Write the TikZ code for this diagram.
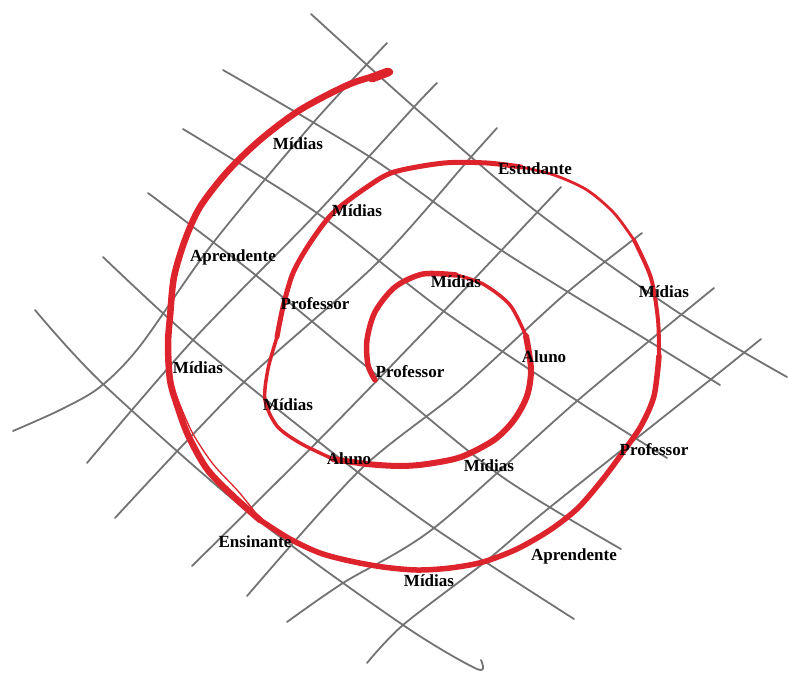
\documentclass[tikz,border=0pt]{standalone}
\usepackage{fontspec}
\setmainfont{Liberation Serif}
\usepackage{xcolor}
\definecolor{spiralred}{RGB}{221,36,45}
\definecolor{gridgrey}{RGB}{115,115,115}

\begin{document}
\begin{tikzpicture}[x=1pt,y=-1pt,
            gridline/.style={draw=gridgrey,line width=1.8pt,line cap=round,line join=round},
            spiral/.style={draw=spiralred,line cap=round,line join=round},
            word/.style={font=\fontsize{17}{19}\selectfont\bfseries,inner sep=0pt,
                         text height=11pt,text depth=3pt}]
        \useasboundingbox (0,0) rectangle (788,673);
        \draw[gridline] plot[smooth] coordinates {(311,14) (414,107) (537,212) (679,313) (787,377)};
        \draw[gridline] plot[smooth] coordinates {(223,70) (370,157) (501,250) (647,340) (720,385)};
        \draw[gridline] plot[smooth] coordinates {(183,129) (317,213) (442,310) (579,402) (667,458)};
        \draw[gridline] plot[smooth] coordinates {(148,193) (253,273) (373,372) (501,476) (621,549)};
        \draw[gridline] plot[smooth] coordinates {(103,257) (193,340) (333,453) (434,528) (574,619)};
        \draw[gridline] plot[smooth] coordinates {(35,310) (103,384) (253,516) (403,625) (477,669) (481,660)};
        \draw[gridline] plot[smooth] coordinates {(13,431) (60,410) (100,387) (140,346) (213,243) (313,123) (387,43)};
        \draw[gridline] plot[smooth] coordinates {(87,463) (193,340) (317,213) (414,107) (437,83)};
        \draw[gridline] plot[smooth] coordinates {(115,518) (242,384) (377,263) (471,157) (497,128)};
        \draw[gridline] plot[smooth] coordinates {(192,566) (317,442) (442,313) (561,187)};
        \draw[gridline] plot[smooth] coordinates {(247,596) (360,470) (460,390) (564,295) (642,233)};
        \draw[gridline] plot[smooth] coordinates {(287,622) (343,583) (434,528) (577,401) (714,288)};
        \draw[gridline] plot[smooth] coordinates {(367,663) (403,625) (485,562) (549,508) (710,380) (761,339)};

        \draw[spiral,line width=9pt] (372,78) -- (388,72);
        \draw[spiral,line width=6.5pt] plot[smooth] coordinates {(390,72) (350,84) (300,110) (260,140) (227,172) (200,207) (185,240) (174,277) (170,317) (168,345) (170,380) (177,405) (188,435) (207,469) (233,496) (260,520)};
        \draw[spiral,line width=1.3pt] plot[smooth] coordinates {(176,395) (192,432) (213,464) (238,491) (255,512)};
        \draw[spiral,line width=5.5pt] plot[smooth] coordinates {(260,520) (290,539) (320,553) (350,561) (383,567) (417,570) (450,568) (483,562) (517,549) (550,530) (578,508) (603,479) (623,452) (641,426) (654,396) (659,356)};
        \draw[spiral,line width=4pt] plot[smooth] coordinates {(659,356) (658,320) (651,278) (634,240)};
        \draw[spiral,line width=2.8pt] plot[smooth] coordinates {(634,240) (614,213) (587,190) (554,175) (521,167)};
        \draw[spiral,line width=5pt] plot[smooth] coordinates {(521,167) (487,163) (444,163) (394,172) (367,187) (333,213) (310,243) (293,273) (283,307) (277,337)};
        \draw[spiral,line width=3.5pt] plot[smooth] coordinates {(277,337) (268,369) (265,400) (277,426) (300,443) (333,459)};
        \draw[spiral,line width=6pt] plot[smooth] coordinates {(333,459) (367,464) (400,466) (427,464) (461,457) (494,440) (514,420) (527,396) (531,369) (526,336)};
        \draw[spiral,line width=3.5pt] plot[smooth] coordinates {(526,336) (510,305) (483,284) (456,275)};
        \draw[spiral,line width=5.5pt] plot[smooth] coordinates {(456,275) (423,274) (395,287) (375,312) (367,340) (368,365) (375,380)};

        \node[word] (m1) at (298,145) {Mídias};
        \node[word] (m2) at (357,212) {Mídias};
        \node[word] (apr1) at (233,257) {Aprendente};
        \node[word] (prof1) at (315,305) {Professor};
        \node[word] (est) at (535,170) {Estudante};
        \node[word] (m3) at (456,283) {Mídias};
        \node[word] (m4) at (664,293) {Mídias};
        \node[word] (aluno1) at (544,358) {Aluno};
        \node[word] (prof2) at (410,373) {Professor};
        \node[word] (m5) at (198,369) {Mídias};
        \node[word] (m6) at (288,406) {Mídias};
        \node[word] (aluno2) at (349,460) {Aluno};
        \node[word] (m7) at (489,467) {Mídias};
        \node[word] (prof3) at (654,451) {Professor};
        \node[word] (ens) at (255,543) {Ensinante};
        \node[word] (apr2) at (574,556) {Aprendente};
        \node[word] (m8) at (429,582) {Mídias};
        \end{tikzpicture}
\end{document}
